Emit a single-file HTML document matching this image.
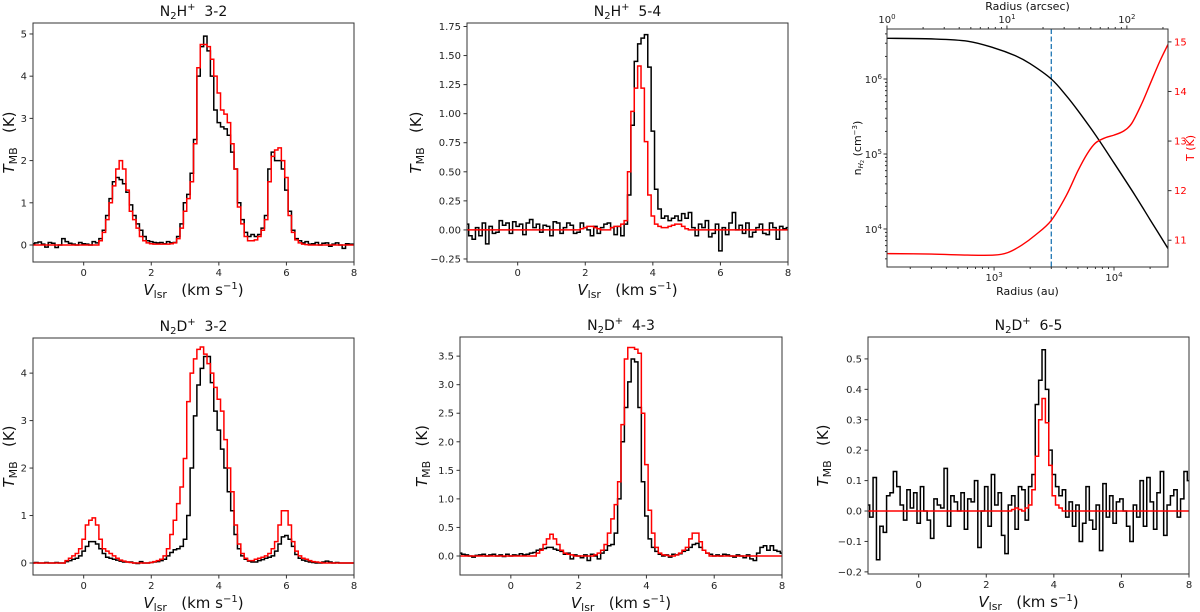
<!DOCTYPE html>
<html><head><meta charset="utf-8"><title>Spectra and profiles</title>
<style>
html,body{margin:0;padding:0;background:#fff;}
svg{display:block;font-family:"DejaVu Sans","Liberation Sans",sans-serif;}
</style></head>
<body>
<svg id="fig" width="1200" height="612" viewBox="0 0 1200 612" xmlns="http://www.w3.org/2000/svg"></svg>
<script>
// ---------- data ----------
const vStart = -1.55;
const chanW = 0.1;
const n2hp32Obs = [0.03,0.05,0.07,0.02,-0.05,0.06,0.04,-0.06,0.0,0.15,0.08,0.04,0.02,0.0,0.06,0.03,0.02,0.0,0.08,0.05,
 0.15,0.35,0.7,1.1,1.5,1.6,1.55,1.45,1.25,0.95,0.7,0.5,0.35,0.2,
 0.1,0.08,0.06,0.05,0.06,0.03,0.08,0.05,0.06,0.2,
 0.5,1.0,1.2,1.7,2.5,4.0,4.7,4.95,4.6,4.0,3.2,2.9,2.8,2.75,2.6,2.2,1.8,1.0,0.6,0.3,0.2,0.25,0.2,0.25,0.4,0.7,1.8,2.2,2.0,2.0,1.8,1.3,0.8,0.35,0.15,0.1,
 0.05,0.08,0.02,0.03,0.06,0.0,0.04,0.05,-0.03,0.02,0.05,0.0,-0.08,0.03,0.02,0.02];
const n2hp32Mod = [0,0,0,0,0,0,0,0,0,0,0,0,0,0,0,0,0,0,0,0,
 0.1,0.3,0.6,1.0,1.4,1.8,2.0,1.8,1.3,0.8,0.6,0.4,0.2,0.1,
 0.05,0.03,0.02,0.02,0.02,0.02,0.02,0.03,0.05,0.15,
 0.4,0.8,1.1,1.5,2.4,4.2,4.75,4.75,4.7,4.4,4.0,3.6,3.2,3.1,2.9,2.4,1.8,0.9,0.5,0.2,0.1,0.1,0.12,0.2,0.35,0.6,1.5,2.1,2.25,2.3,2.0,1.6,0.7,0.3,0.12,0.05,
 0.02,0.01,0,0,0,0,0,0,0,0,0,0,0,0,0,0];
const n2hp54Obs = [0.05,-0.05,-0.08,0.02,-0.05,0.06,-0.12,0.03,-0.03,-0.02,0.08,0.04,0.06,-0.03,0.07,0.03,0.05,-0.04,0.06,0.09,0.02,0.05,-0.02,0.04,0.03,-0.05,0.07,0.06,-0.03,0.02,0.06,0.04,-0.03,-0.02,0.06,0.02,0.0,-0.05,0.03,-0.03,0.02,0.05,0.06,0.02,-0.04,0.03,
 -0.05,0.05,0.3,0.9,1.45,1.6,1.65,1.68,1.4,0.85,0.35,0.18,0.1,0.12,0.08,0.1,0.12,0.08,0.14,0.1,0.15,0.02,
 -0.05,0.05,0.02,0.08,-0.06,-0.03,0.05,-0.18,0.02,-0.04,0.06,0.15,0.0,0.04,-0.03,0.06,-0.06,-0.02,0.02,0.05,-0.03,-0.04,0.06,0.02,-0.08,0.03,0.01,0.02];
const n2hp54Mod = [0,0,0,0,0,0,0,0,0,0,0,0,0,0,0,0,0,0,0,0,0,0,0,0,0,0,0,0,0,0,0,0,0,0,
 0.01,0.02,0.03,0.03,0.02,0.01,0.0,0.0,0.0,0.02,0.03,
 0.03,0.05,0.08,0.5,1.02,1.22,1.41,1.22,0.76,0.3,0.12,0.05,0.03,0.02,0.02,0.03,0.04,0.05,0.05,0.03,0.01,0,
 0,0,0,0,0,0,0,0,0,0,0,0,0,0,0,0,0,0,0,0,0,0,0,0,0,0,0,0,0];
const n2dp32Obs = [0,0.01,0,0,0.01,0,0,0.01,0,0,
 0.03,0.05,0.08,0.1,0.15,0.25,0.35,0.45,0.45,0.4,0.3,0.2,0.12,0.1,0.08,0.06,
 0.04,0.02,0.02,0.02,0.0,-0.01,0.03,0.0,0.0,0.01,0.02,0.03,0.05,
 0.08,0.15,0.22,0.28,0.3,0.35,0.5,1.0,2.0,3.1,3.75,4.1,4.35,4.35,3.8,3.2,2.8,2.4,2.0,1.5,1.1,0.6,0.3,0.15,0.08,0.04,0.02,0.02,0.05,0.07,0.1,0.12,0.15,0.25,0.4,0.55,0.58,0.5,0.35,0.18,0.1,0.06,
 0.04,0.02,0.01,0.0,0.0,0.02,0.04,0.02,0.0,0.01,0.0,0.0,0.0,0.0,0.0];
const n2dp32Mod = [0,0,0,0,0,0,0,0,0,0,
 0.05,0.1,0.15,0.2,0.3,0.5,0.8,0.9,0.95,0.8,0.5,0.3,0.25,0.2,0.15,0.1,
 0.06,0.04,0.02,0.01,0.0,0.0,0.0,0.0,0.0,0.01,0.03,0.05,0.08,
 0.15,0.3,0.6,0.9,1.25,1.6,2.2,3.4,4.0,4.3,4.5,4.55,4.4,4.2,4.0,3.7,3.45,3.2,2.6,2.0,1.5,0.8,0.4,0.2,0.1,0.05,0.05,0.08,0.1,0.12,0.15,0.2,0.3,0.45,0.8,1.1,1.1,0.8,0.45,0.25,0.15,0.1,
 0.08,0.05,0.03,0.02,0.01,0.0,0,0,0,0,0,0,0,0,0];
const n2dp43Obs = [0.05,0.03,0.02,0.0,-0.02,0.01,0.02,0.03,0.0,0.02,0.03,0.0,0.02,-0.01,0.03,0.0,0.02,0.01,0.04,0.02,0.03,0.05,0.06,
 0.1,0.12,0.13,0.15,0.15,0.12,0.1,0.08,
 0.03,0.05,-0.05,0.02,0.0,-0.03,0.02,-0.08,0.03,0.0,-0.05,
 0.05,0.1,0.18,0.2,0.4,1.0,2.0,2.6,3.05,3.45,3.4,2.6,1.3,0.7,0.3,0.15,0.08,0.03,
 0.0,0.02,-0.02,0.03,0.02,0.04,0.08,0.1,0.15,0.2,0.22,0.15,0.1,0.05,
 0.03,0.0,0.02,0.0,0.03,0.02,0.0,-0.02,0.02,0.0,-0.03,0.02,-0.05,-0.08,
 0.05,0.15,0.18,0.1,0.18,0.1,0.08,0.05];
const n2dp43Mod = [0,0,0,0,0,0,0,0,0,0,0,0,0,0,0,0,0,0,0,0,0,0,0,
 0.05,0.1,0.2,0.3,0.38,0.3,0.2,0.1,
 0.05,0.03,0.02,0.0,0.0,0.0,0.0,0.0,0.0,0.02,0.05,
 0.1,0.2,0.4,0.65,0.9,1.3,2.3,3.45,3.65,3.65,3.62,3.55,2.5,1.6,0.8,0.4,0.15,0.05,
 0.02,0.01,0.0,0.0,0.02,0.05,0.1,0.15,0.3,0.4,0.4,0.25,0.1,0.05,
 0,0,0,0,0,0,0,0,0,0,0,0,0,0,0,0,0,0,0,0,0,0];
const n2dp65Obs = [0.02,-0.02,0.11,-0.16,-0.05,-0.07,0.05,0.06,0.13,0.08,0.02,-0.03,0.07,0.01,0.06,-0.04,0.08,0.0,-0.03,-0.09,0.04,0.02,0.01,0.14,-0.05,0.05,0.03,0.0,0.06,-0.06,0.04,0.03,0.1,-0.12,0.0,0.08,-0.05,0.12,0.02,0.06,-0.08,-0.14,0.02,0.05,-0.06,0.08,0.07,-0.03,
 0.08,0.12,0.35,0.43,0.53,0.4,0.2,0.12,0.08,0.05,0.07,-0.02,0.03,
 -0.05,0.02,-0.1,-0.04,0.08,-0.03,-0.06,0.02,-0.13,0.09,-0.02,0.05,-0.04,0.03,0.04,0.0,-0.05,-0.1,0.02,-0.02,0.1,-0.05,0.11,0.03,-0.06,0.06,0.13,-0.08,0.02,0.05,0.07,-0.02,0.04,0.13,0.1];
const n2dp65Mod = [0,0,0,0,0,0,0,0,0,0,0,0,0,0,0,0,0,0,0,0,0,0,0,0,0,0,0,0,0,0,0,0,0,0,0,0,0,0,0,0,0,0,0,
 0.005,0.01,0.005,0.0,
 0.01,0.02,0.07,0.18,0.3,0.37,0.29,0.15,0.05,0.02,0.01,
 0,0,0,0,0,0,0,0,0,0,0,0,0,0,0,0,0,0,0,0,0,0,0,0,0,0,0,0,0,0,0,0,0,0,0,0,0,0];
// model profile panel
const radiusAu = [128,300,600,1000,1500,2000,3000,4000,5000,7000,10000,15000,20000,28200];
const densityH2 = [3.49e6,3.43e6,3.2e6,2.6e6,2.05e6,1.6e6,1.0e6,6.0e5,3.8e5,1.8e5,7.6e4,2.8e4,1.33e4,5.5e3];
const radiusAuT = [128,300,600,1000,1300,1700,2200,3000,4000,5000,6000,7000,8500,10000,12000,14000,17000,20000,24000,28200];
const temperatureK = [10.73,10.72,10.7,10.7,10.75,10.9,11.1,11.4,11.9,12.4,12.75,12.96,13.07,13.12,13.2,13.35,13.75,14.15,14.6,14.95];
const boundaryAu = 3000;

// ---------- helpers ----------
const NS = 'http://www.w3.org/2000/svg';
const svg = document.getElementById('fig');
function mk(tag, attrs, parent){
  const e = document.createElementNS(NS, tag);
  for (const k in attrs) e.setAttribute(k, attrs[k]);
  (parent || svg).appendChild(e);
  return e;
}
const AX = '#333';

function smoothPath(pts){
  let d = 'M' + pts[0][0].toFixed(2) + ' ' + pts[0][1].toFixed(2);
  for (let i = 0; i < pts.length - 1; i++) {
    const p0 = pts[Math.max(0, i - 1)], p1 = pts[i], p2 = pts[i + 1], p3 = pts[Math.min(pts.length - 1, i + 2)];
    const c1x = p1[0] + (p2[0] - p0[0]) / 6, c1y = p1[1] + (p2[1] - p0[1]) / 6;
    const c2x = p2[0] - (p3[0] - p1[0]) / 6, c2y = p2[1] - (p3[1] - p1[1]) / 6;
    d += ' C' + c1x.toFixed(2) + ' ' + c1y.toFixed(2) + ' ' + c2x.toFixed(2) + ' ' + c2y.toFixed(2) + ' ' + p2[0].toFixed(2) + ' ' + p2[1].toFixed(2);
  }
  return d;
}

function spectrumPanel(cfg){
  const g = mk('g', {});
  
  
  const xs = v => cfg.x0 + (v - (-1.5)) / 9.5 * (cfg.x1 - cfg.x0);
  const ys = t => cfg.y1 - (t - cfg.ymin) / (cfg.ymax - cfg.ymin) * (cfg.y1 - cfg.y0);
  const cid = 'clip-' + cfg.name;
  const cp = mk('clipPath', {id: cid}, g);
  mk('rect', {x: cfg.x0, y: cfg.y0, width: cfg.x1 - cfg.x0, height: cfg.y1 - cfg.y0}, cp);
  function step(vals, color, nm){
    let d = '';
    vals.forEach((t, i) => {
      const a = xs(vStart + i * chanW), b = xs(vStart + (i + 1) * chanW), y = ys(t);
      d += (i === 0 ? 'M' : 'L') + a.toFixed(2) + ' ' + y.toFixed(2) + ' L' + b.toFixed(2) + ' ' + y.toFixed(2) + ' ';
    });
    const p = mk('path', {d: d, fill: 'none', stroke: color, 'stroke-width': 1.5, 'clip-path': 'url(#' + cid + ')'}, g);
    
    
  }
  step(cfg.obs, '#000', 'observed-spectrum');
  step(cfg.mod, '#ff0000', 'model-spectrum');
  const fr = mk('rect', {x: cfg.x0, y: cfg.y0, width: cfg.x1 - cfg.x0, height: cfg.y1 - cfg.y0, fill: 'none', stroke: AX, 'stroke-width': 1}, g);
  
  
  [0, 2, 4, 6, 8].forEach(v => {
    const x = xs(v);
    mk('line', {x1: x, x2: x, y1: cfg.y1, y2: cfg.y1 + 3.5, stroke: AX}, g);
    const t = mk('text', {x: x, y: cfg.y1 + 14, 'font-size': 10, 'text-anchor': 'middle', fill: '#222'}, g);
    t.textContent = String(v);
    
    
  });
  cfg.yticks.forEach((v, i) => {
    const y = ys(v);
    mk('line', {x1: cfg.x0 - 3.5, x2: cfg.x0, y1: y, y2: y, stroke: AX}, g);
    const t = mk('text', {x: cfg.x0 - 6, y: y + 3.5, 'font-size': 10, 'text-anchor': 'end', fill: '#222'}, g);
    t.textContent = cfg.ylabels[i];
    
    
  });
  const title = mk('text', {x: (cfg.x0 + cfg.x1) / 2, y: cfg.y0 - 7, 'font-size': 14, 'text-anchor': 'middle', fill: '#111'}, g);
  title.innerHTML = cfg.title;
  
  
  const xl = mk('text', {x: (cfg.x0 + cfg.x1) / 2, y: cfg.y1 + 33, 'font-size': 15, 'text-anchor': 'middle', fill: '#111'}, g);
  xl.innerHTML = '<tspan font-style="italic">V</tspan><tspan font-size="11" dy="3">lsr</tspan><tspan dy="-3" xml:space="preserve">   (km s</tspan><tspan font-size="10" dy="-6">−1</tspan><tspan dy="6">)</tspan>';
  
  
  const cy = (cfg.y0 + cfg.y1) / 2, lx = cfg.x0 - cfg.ylOff;
  const yl = mk('text', {x: lx, y: cy, 'font-size': 15, 'text-anchor': 'middle', fill: '#111', transform: 'rotate(-90 ' + lx + ' ' + cy + ')'}, g);
  yl.innerHTML = '<tspan font-style="italic">T</tspan><tspan font-size="11" dy="3">MB</tspan><tspan dy="-3" xml:space="preserve">   (K)</tspan>';
  
  
}

const sub2 = '<tspan font-size="10" dy="3">2</tspan><tspan dy="-3">';
spectrumPanel({name: 'panel-n2hp-3-2', x0: 33, x1: 354, y0: 23, y1: 262, ymin: -0.403, ymax: 5.26,
  yticks: [0,1,2,3,4,5], ylabels: ['0','1','2','3','4','5'], ylOff: 19,
  title: 'N' + sub2 + 'H</tspan><tspan font-size="10" dy="-6">+</tspan><tspan dy="6" xml:space="preserve">  3-2</tspan>',
  obs: n2hp32Obs, mod: n2hp32Mod});
spectrumPanel({name: 'panel-n2hp-5-4', x0: 467, x1: 788, y0: 23, y1: 262, ymin: -0.276, ymax: 1.78,
  yticks: [-0.25,0,0.25,0.5,0.75,1,1.25,1.5,1.75], ylabels: ['−0.25','0.00','0.25','0.50','0.75','1.00','1.25','1.50','1.75'], ylOff: 46,
  title: 'N' + sub2 + 'H</tspan><tspan font-size="10" dy="-6">+</tspan><tspan dy="6" xml:space="preserve">  5-4</tspan>',
  obs: n2hp54Obs, mod: n2hp54Mod});
spectrumPanel({name: 'panel-n2dp-3-2', x0: 33, x1: 354, y0: 338, y1: 575, ymin: -0.253, ymax: 4.74,
  yticks: [0,1,2,3,4], ylabels: ['0','1','2','3','4'], ylOff: 19,
  title: 'N' + sub2 + 'D</tspan><tspan font-size="10" dy="-6">+</tspan><tspan dy="6" xml:space="preserve">  3-2</tspan>',
  obs: n2dp32Obs, mod: n2dp32Mod});
spectrumPanel({name: 'panel-n2dp-4-3', x0: 460, x1: 782, y0: 337, y1: 575, ymin: -0.333, ymax: 3.835,
  yticks: [0,0.5,1,1.5,2,2.5,3,3.5], ylabels: ['0.0','0.5','1.0','1.5','2.0','2.5','3.0','3.5'], ylOff: 33,
  title: 'N' + sub2 + 'D</tspan><tspan font-size="10" dy="-6">+</tspan><tspan dy="6" xml:space="preserve">  4-3</tspan>',
  obs: n2dp43Obs, mod: n2dp43Mod});
spectrumPanel({name: 'panel-n2dp-6-5', x0: 868, x1: 1189, y0: 337, y1: 574, ymin: -0.207, ymax: 0.572,
  yticks: [-0.2,-0.1,0,0.1,0.2,0.3,0.4,0.5], ylabels: ['−0.2','−0.1','0.0','0.1','0.2','0.3','0.4','0.5'], ylOff: 40,
  title: 'N' + sub2 + 'D</tspan><tspan font-size="10" dy="-6">+</tspan><tspan dy="6" xml:space="preserve">  6-5</tspan>',
  obs: n2dp65Obs, mod: n2dp65Mod});

// ---------- profile panel ----------
(function(){
  const x0 = 887, x1 = 1168, y0 = 29, y1 = 267;
  const lrMin = Math.log10(128), lrMax = Math.log10(28200);
  const xs = r => x0 + (Math.log10(r) - lrMin) / (lrMax - lrMin) * (x1 - x0);
  const lnMin = 3.493, lnMax = 6.667;
  const yn = n => y1 - (Math.log10(n) - lnMin) / (lnMax - lnMin) * (y1 - y0);
  const tMin = 10.46, tMax = 15.26;
  const yt = t => y1 - (t - tMin) / (tMax - tMin) * (y1 - y0);
  const g = mk('g', {});
  
  
  const cp = mk('clipPath', {id: 'clip-prof'}, g);
  mk('rect', {x: x0, y: y0, width: x1 - x0, height: y1 - y0}, cp);

  const dl = mk('line', {x1: xs(boundaryAu), x2: xs(boundaryAu), y1: y0, y2: y1, stroke: '#1f77b4', 'stroke-width': 1.3, 'stroke-dasharray': '5,2.5'}, g);
  
  

  const dpts = radiusAu.map((r, i) => [xs(r), yn(densityH2[i])]);
  const dp = mk('path', {d: smoothPath(dpts), fill: 'none', stroke: '#000', 'stroke-width': 1.4, 'clip-path': 'url(#clip-prof)'}, g);
  
  
  const tpts = radiusAuT.map((r, i) => [xs(r), yt(temperatureK[i])]);
  const tp = mk('path', {d: smoothPath(tpts), fill: 'none', stroke: '#ff0000', 'stroke-width': 1.4, 'clip-path': 'url(#clip-prof)'}, g);
  
  

  const fr = mk('rect', {x: x0, y: y0, width: x1 - x0, height: y1 - y0, fill: 'none', stroke: AX}, g);
  
  

  for (let e = 2; e <= 4; e++) for (let m = 1; m <= 9; m++) {
    const r = m * Math.pow(10, e);
    if (r < 128 || r > 28200) continue;
    const x = xs(r), major = m === 1;
    mk('line', {x1: x, x2: x, y1: y1, y2: y1 + (major ? 3.5 : 2), stroke: AX}, g);
    if (major) {
      const t = mk('text', {x: x, y: y1 + 14, 'font-size': 10, 'text-anchor': 'middle', fill: '#222'}, g);
      t.innerHTML = '10<tspan font-size="7" dy="-4">' + e + '</tspan>';
      
      
    }
  }
  for (let e = 0; e <= 2; e++) for (let m = 1; m <= 9; m++) {
    const a = m * Math.pow(10, e), r = a * 128;
    if (r < 127.9 || r > 28200) continue;
    const x = xs(r), major = m === 1;
    mk('line', {x1: x, x2: x, y1: y0, y2: y0 - (major ? 3.5 : 2), stroke: AX}, g);
    if (major) {
      const t = mk('text', {x: x, y: y0 - 6, 'font-size': 10, 'text-anchor': 'middle', fill: '#222'}, g);
      t.innerHTML = '10<tspan font-size="7" dy="-4">' + e + '</tspan>';
      
      
    }
  }
  for (let e = 3; e <= 6; e++) for (let m = 1; m <= 9; m++) {
    const n = m * Math.pow(10, e), ln = Math.log10(n);
    if (ln < lnMin || ln > lnMax) continue;
    const y = yn(n), major = m === 1;
    mk('line', {x1: x0, x2: x0 - (major ? 3.5 : 2), y1: y, y2: y, stroke: AX}, g);
    if (major) {
      const t = mk('text', {x: x0 - 5, y: y + 4, 'font-size': 10, 'text-anchor': 'end', fill: '#222'}, g);
      t.innerHTML = '10<tspan font-size="7" dy="-4">' + e + '</tspan>';
      
      
    }
  }
  [11, 12, 13, 14, 15].forEach(v => {
    const y = yt(v);
    mk('line', {x1: x1, x2: x1 + 3.5, y1: y, y2: y, stroke: AX}, g);
    const t = mk('text', {x: x1 + 6, y: y + 3.5, 'font-size': 10, 'text-anchor': 'start', fill: '#ff0000'}, g);
    t.textContent = String(v);
    
    
  });
  const xl = mk('text', {x: (x0 + x1) / 2, y: y1 + 28, 'font-size': 11, 'text-anchor': 'middle', fill: '#111'}, g);
  xl.textContent = 'Radius (au)';
  
  
  const tl = mk('text', {x: (x0 + x1) / 2, y: 10, 'font-size': 11, 'text-anchor': 'middle', fill: '#111'}, g);
  tl.textContent = 'Radius (arcsec)';
  
  
  const cy = (y0 + y1) / 2;
  const yl = mk('text', {x: 861, y: cy, 'font-size': 11, 'text-anchor': 'middle', fill: '#111', transform: 'rotate(-90 861 ' + cy + ')'}, g);
  yl.innerHTML = 'n<tspan font-size="7" dy="2" font-style="italic">H</tspan><tspan font-size="5" dy="1">2</tspan><tspan dy="-3" xml:space="preserve"> (cm</tspan><tspan font-size="7" dy="-4">−3</tspan><tspan dy="4">)</tspan>';
  
  
  const ry = mk('text', {x: 1194, y: cy, 'font-size': 11, 'text-anchor': 'middle', fill: '#ff0000', transform: 'rotate(-90 1194 ' + cy + ')'}, g);
  ry.textContent = 'T (K)';
  
  
})();
</script>
</body></html>
